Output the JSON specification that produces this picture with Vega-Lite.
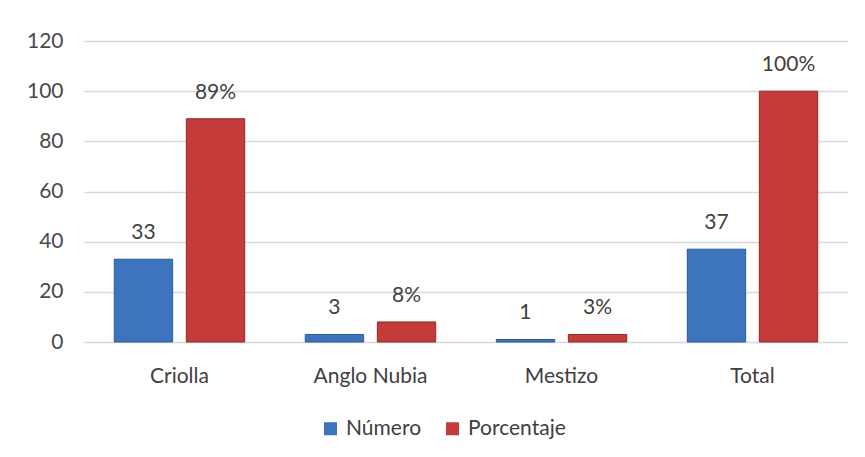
{
  "$schema": "https://vega.github.io/schema/vega-lite/v6.json",
  "autosize": {"type": "none"},
  "width": 764,
  "height": 301,
  "padding": {"left": 84, "top": 41, "right": 17, "bottom": 115},
  "background": "white",
  "config": {
    "view": {"stroke": null},
    "font": "Lato",
    "axis": {"labelFont": "Lato", "labelColor": "#4a4a4a", "labelFontSize": 21}
  },
  "data": {
    "values": [
      {"cat": "Criolla", "serie": "Número", "valor": 33, "etiqueta": "33"},
      {"cat": "Criolla", "serie": "Porcentaje", "valor": 89, "etiqueta": "89%"},
      {"cat": "Anglo Nubia", "serie": "Número", "valor": 3, "etiqueta": "3"},
      {"cat": "Anglo Nubia", "serie": "Porcentaje", "valor": 8, "etiqueta": "8%"},
      {"cat": "Mestizo", "serie": "Número", "valor": 1, "etiqueta": "1"},
      {"cat": "Mestizo", "serie": "Porcentaje", "valor": 3, "etiqueta": "3%"},
      {"cat": "Total", "serie": "Número", "valor": 37, "etiqueta": "37"},
      {"cat": "Total", "serie": "Porcentaje", "valor": 100, "etiqueta": "100%"}
    ]
  },
  "encoding": {
    "x": {
      "field": "cat", "type": "nominal", "sort": null,
      "scale": {"paddingInner": 0, "paddingOuter": 0},
      "axis": {"title": null, "labelAngle": 0, "ticks": false, "domain": false, "labelPadding": 23, "labelColor": "#404040"}
    },
    "xOffset": {
      "field": "serie", "type": "nominal",
      "scale": {"paddingInner": 0.19, "paddingOuter": 0.42}
    },
    "y": {
      "field": "valor", "type": "quantitative",
      "scale": {"domain": [0, 120]},
      "axis": {"title": null, "values": [0, 20, 40, 60, 80, 100, 120], "labelOverlap": false, "domain": false, "ticks": false, "gridColor": "#d9d9d9", "gridWidth": 1.5, "labelPadding": 21}
    }
  },
  "layer": [
    {
      "mark": {"type": "bar", "strokeWidth": 1},
      "encoding": {
        "color": {
          "field": "serie", "type": "nominal",
          "scale": {"domain": ["Número", "Porcentaje"], "range": ["#3d74bd", "#c43b3a"]},
          "legend": {
            "title": null, "orient": "none", "direction": "horizontal",
            "legendX": 236, "legendY": 377,
            "symbolType": "square", "symbolSize": 170, "symbolStrokeWidth": 0,
            "labelFont": "Lato", "labelFontSize": 21, "labelColor": "#404040",
            "columnPadding": 20, "labelOffset": 5
          }
        },
        "stroke": {
          "field": "serie", "type": "nominal",
          "scale": {"domain": ["Número", "Porcentaje"], "range": ["#2c5a96", "#8e2a29"]},
          "legend": null
        }
      }
    },
    {
      "mark": {"type": "text", "dy": -26, "fontSize": 21, "color": "#404040", "font": "Lato"},
      "encoding": {"text": {"field": "etiqueta"}}
    }
  ]
}
